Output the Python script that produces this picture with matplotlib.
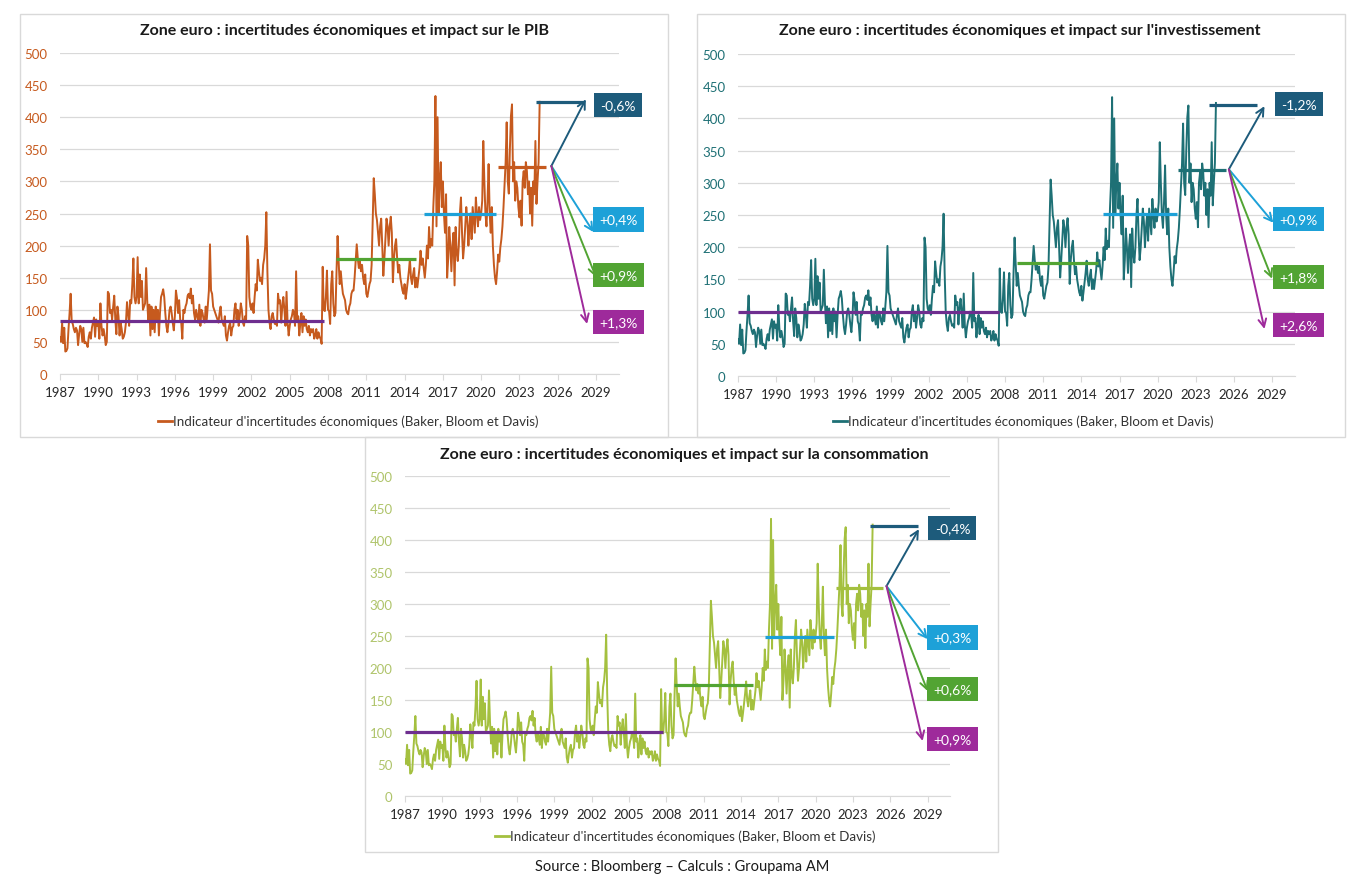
import numpy as np
import matplotlib
matplotlib.use('Agg')
import matplotlib.pyplot as plt
from matplotlib.patches import Rectangle
from matplotlib.lines import Line2D

plt.rcParams['font.family'] = ['Lato', 'DejaVu Sans']

# indicateur mensuel (Baker, Bloom et Davis), janvier 1987 -> août 2024
start_year = 1987
epu = [
    57, 50, 80, 48, 72, 35, 36, 40, 70, 95, 125, 82,        # 1987
    78, 70, 65, 72, 68, 45, 62, 75, 70, 50, 72, 48,         # 1988
    50, 47, 42, 58, 65, 55, 72, 80, 88, 58, 85, 75,         # 1989
    80, 55, 110, 75, 60, 70, 60, 45, 50, 128, 125, 95,      # 1990
    100, 85, 105, 122, 85, 62, 105, 90, 60, 80, 70, 55,     # 1991
    58, 65, 80, 112, 95, 75, 115, 110, 140, 180, 120, 110,  # 1992
    120, 182, 110, 155, 120, 145, 100, 105, 110, 165, 115, 82,  # 1993
    108, 60, 105, 70, 100, 65, 105, 85, 100, 60, 95, 120,   # 1994
    125, 132, 120, 95, 75, 65, 80, 100, 105, 95, 80, 68,    # 1995
    90, 130, 118, 95, 115, 85, 80, 55, 100, 95, 105, 110,   # 1996
    122, 125, 118, 133, 110, 122, 95, 85, 100, 90, 80, 108, # 1997
    75, 100, 95, 85, 80, 105, 85, 108, 130, 202, 130, 125,  # 1998
    105, 100, 95, 90, 85, 80, 95, 105, 85, 80, 75, 90,      # 1999
    60, 52, 65, 75, 80, 60, 72, 75, 100, 110, 85, 100,      # 2000
    75, 90, 110, 100, 80, 75, 90, 85, 215, 200, 120, 105,   # 2001
    100, 110, 95, 120, 140, 130, 178, 160, 145, 150, 140, 170,  # 2002
    180, 200, 252, 160, 100, 80, 70, 90, 95, 85, 78, 80,    # 2003
    75, 125, 110, 115, 80, 105, 120, 100, 75, 128, 80, 60,  # 2004
    75, 85, 90, 100, 95, 75, 160, 85, 90, 60, 80, 95,       # 2005
    65, 90, 75, 85, 70, 65, 75, 60, 70, 65, 70, 55,         # 2006
    60, 70, 55, 65, 58, 55, 47, 167, 100, 98, 120, 161,     # 2007
    100, 98, 78, 140, 160, 110, 90, 95, 160, 215, 175, 140, # 2008
    160, 140, 125, 120, 115, 100, 95, 93, 105, 110, 125, 130,   # 2009
    130, 150, 175, 202, 180, 165, 175, 160, 170, 150, 140, 155, # 2010
    125, 120, 130, 140, 145, 170, 240, 305, 280, 250, 240, 220, # 2011
    200, 230, 242, 200, 153, 180, 210, 242, 230, 200, 230, 245, # 2012
    220, 143, 180, 200, 210, 180, 158, 170, 150, 140, 130, 125, # 2013
    140, 117, 130, 145, 160, 179, 150, 140, 155, 165, 135, 150, # 2014
    135, 150, 165, 192, 170, 180, 165, 150, 170, 200, 180, 229, # 2015
    197, 210, 200, 260, 300, 433, 230, 400, 250, 300, 330, 260, # 2016
    300, 250, 220, 280, 150, 180, 229, 200, 160, 200, 220, 138, # 2017
    229, 190, 176, 200, 250, 275, 220, 180, 200, 230, 260, 240, # 2018
    200, 230, 250, 210, 260, 240, 220, 275, 250, 230, 260, 240, # 2019
    250, 270, 363, 300, 250, 230, 270, 327, 250, 220, 260, 200, # 2020
    170, 150, 140, 160, 186, 175, 197, 210, 230, 260, 296, 330, # 2021
    392, 300, 281, 350, 402, 420, 300, 330, 270, 300, 290, 260, # 2022
    244, 270, 231, 300, 316, 290, 330, 316, 280, 300, 250, 290, # 2023
    231, 300, 280, 363, 265, 300, 330, 424,                     # 2024
]
months = start_year + np.arange(len(epu)) / 12.0

# paliers moyens par régime (niveau, début, fin)
pib_levels = [83, 179, 249, 322, 424]
pib_starts = [1987.0, 2008.6, 2015.5, 2021.3, 2024.3]
pib_ends = [2007.7, 2014.9, 2021.2, 2025.1, 2028.0]

inv_levels = [99, 175, 252, 320, 421]
inv_starts = [1987.0, 2008.9, 2015.7, 2021.6, 2024.0]
inv_ends = [2007.5, 2015.3, 2021.5, 2025.4, 2027.8]

cons_levels = [100, 173, 248, 325, 422]
cons_starts = [1987.0, 2008.6, 2015.9, 2021.6, 2024.4]
cons_ends = [2007.7, 2015.0, 2021.5, 2025.4, 2028.2]

# scénarios : point de départ, extrémités des flèches, impacts
pib_origin = (2025.5, 324)
pib_arrow_x = [2028.2, 2028.8, 2029.0, 2028.3]
pib_arrow_y = [428, 221, 151, 78]
pib_labels = ['-0,6%', '+0,4%', '+0,9%', '+1,3%']
pib_label_y = [419, 241, 154, 81]

inv_origin = (2025.6, 321)
inv_arrow_x = [2028.4, 2029.1, 2029.0, 2028.4]
inv_arrow_y = [419, 238, 151, 73]
inv_labels = ['-1,2%', '+0,9%', '+1,8%', '+2,6%']
inv_label_y = [422, 244, 154, 79]

cons_origin = (2025.7, 328)
cons_arrow_x = [2028.3, 2029.0, 2029.0, 2028.6]
cons_arrow_y = [417, 245, 164, 86]
cons_labels = ['-0,4%', '+0,3%', '+0,6%', '+0,9%']
cons_label_y = [419, 248, 167, 89]

xticks = list(range(1987, 2030, 3))

navy = '#1D5B7B'
lblue = '#1DA1D8'
green = '#52A433'
purple = '#6E2E8F'
magenta = '#9E2A9B'
grid_col = '#D9D9D9'

fig = plt.figure(figsize=(13.63, 8.79), dpi=100)
W, H = 1363.0, 879.0


def box(x0, y0, x1, y1):
    fig.patches.append(Rectangle((x0 / W, 1 - y1 / H), (x1 - x0) / W, (y1 - y0) / H,
                                 transform=fig.transFigure, fill=False,
                                 ec='#D9D9D9', lw=1.0))


def panel(rect, color, tcolor, title, title_xy, leg_xy,
          levels, starts, ends, origin, ax_x, ax_y, labels, label_y, label_x):
    x0, y0, x1, y1 = rect
    ax = fig.add_axes([x0 / W, 1 - y1 / H, (x1 - x0) / W, (y1 - y0) / H])
    ax.plot(months, epu, color=color, lw=1.4, zorder=3)
    reg_cols = [purple, green, lblue, color, navy]
    for lv, s, e, c in zip(levels, starts, ends, reg_cols):
        ax.plot([s, e], [lv, lv], color=c, lw=2.3, zorder=4, solid_capstyle='butt')
    arr_cols = [navy, lblue, green, magenta]
    box_cols = [navy, lblue, green, magenta]
    for xe, ye, c in zip(ax_x, ax_y, arr_cols):
        ax.annotate('', xy=(xe, ye), xytext=origin,
                    arrowprops=dict(arrowstyle='->', color=c, lw=1.4,
                                    shrinkA=0, shrinkB=0, mutation_scale=14),
                    zorder=5, annotation_clip=False)
    for lab, ly, c in zip(labels, label_y, box_cols):
        ax.text(label_x, ly, lab, ha='center', va='center', color='white',
                fontsize=10, clip_on=False, zorder=6,
                bbox=dict(boxstyle='square,pad=0.45', fc=c, ec='none'))
    ax.set_xlim(1987, 2030.8)
    ax.set_ylim(0, 500)
    ax.set_yticks(range(0, 501, 50))
    ax.set_xticks(xticks)
    ax.set_xticklabels([str(t) for t in xticks])
    ax.yaxis.grid(True, color=grid_col, lw=0.9)
    ax.set_axisbelow(True)
    for s in ['top', 'right', 'left']:
        ax.spines[s].set_visible(False)
    ax.spines['bottom'].set_color(grid_col)
    ax.tick_params(axis='y', length=0, labelsize=9.5, labelcolor=tcolor, pad=9)
    ax.tick_params(axis='x', length=4, color=grid_col, labelsize=9.5,
                   labelcolor='#262626', pad=5)
    fig.text(title_xy[0] / W, 1 - title_xy[1] / H, title, ha='center', va='center',
             fontsize=11.5, fontweight='bold', color='#1A1A1A')
    lx, ly = leg_xy
    fig.lines.append(Line2D([(lx - 187) / W, (lx - 173) / W], [1 - ly / H, 1 - ly / H],
                            transform=fig.transFigure, color=color, lw=2))
    fig.text((lx - 172) / W, 1 - ly / H,
             "Indicateur d'incertitudes économiques (Baker, Bloom et Davis)",
             ha='left', va='center', fontsize=9.6, color='#333333')
    return ax


box(20, 15, 668, 438)
box(697, 15, 1345, 438)
box(365, 438, 998, 853)

panel((60, 54, 619, 375), '#C65A1E', '#C65A1E',
      "Zone euro : incertitudes économiques et impact sur le PIB", (345, 31), (345, 422),
      pib_levels, pib_starts, pib_ends, pib_origin, pib_arrow_x, pib_arrow_y,
      pib_labels, pib_label_y, 2030.75)

panel((738, 55, 1295, 377), '#1E7075', '#1E7075',
      "Zone euro : incertitudes économiques et impact sur l'investissement", (1020, 31), (1020, 422),
      inv_levels, inv_starts, inv_ends, inv_origin, inv_arrow_x, inv_arrow_y,
      inv_labels, inv_label_y, 2031.1)

panel((405, 477, 950, 797), '#A4C03F', '#AFC46A',
      "Zone euro : incertitudes économiques et impact sur la consommation", (684, 455), (682, 837),
      cons_levels, cons_starts, cons_ends, cons_origin, cons_arrow_x, cons_arrow_y,
      cons_labels, cons_label_y, 2031.0)

fig.text(682 / W, 1 - 867 / H, "Source : Bloomberg – Calculs : Groupama AM",
         ha='center', va='center', fontsize=10.5, color='#1A1A1A')

fig.savefig('out.png', dpi=100)
